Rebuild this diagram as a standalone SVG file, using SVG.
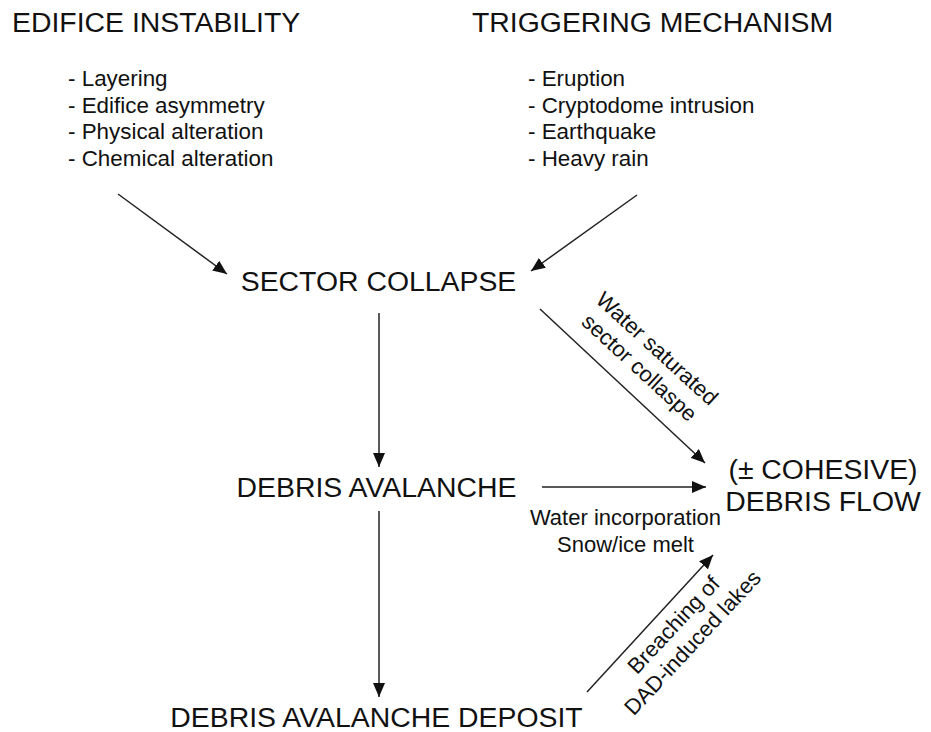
<svg xmlns="http://www.w3.org/2000/svg" width="931" height="732" viewBox="0 0 931 732">
  <defs>
    <marker id="ah" viewBox="0 0 14 12" refX="14" refY="6" markerWidth="14" markerHeight="12" markerUnits="userSpaceOnUse" orient="auto">
      <path d="M0,0 L14,6 L0,12 Z" fill="#111"/>
    </marker>
  </defs>
  <style>
    text { font-family: "Liberation Sans", Arial, sans-serif; fill: #111; }
    .big { font-size: 28.4px; }
    .item { font-size: 22.4px; }
    .lbl { font-size: 22px; text-anchor: middle; }
    .mid { text-anchor: middle; }
    .conn line { stroke: #222; stroke-width: 1.5; fill: none; marker-end: url(#ah); }
  </style>
  <rect width="931" height="732" fill="#fff"/>

  <g id="edifice-instability">
    <text class="big" x="12" y="32">EDIFICE INSTABILITY</text>
    <text class="item" x="68" y="86">- Layering</text>
    <text class="item" x="68" y="112.7">- Edifice asymmetry</text>
    <text class="item" x="68" y="139.3">- Physical alteration</text>
    <text class="item" x="68" y="166">- Chemical alteration</text>
  </g>

  <g id="triggering-mechanism">
    <text class="big" x="472" y="32">TRIGGERING MECHANISM</text>
    <text class="item" x="528" y="86">- Eruption</text>
    <text class="item" x="528" y="112.7">- Cryptodome intrusion</text>
    <text class="item" x="528" y="139.3">- Earthquake</text>
    <text class="item" x="528" y="166">- Heavy rain</text>
  </g>

  <g id="sector-collapse">
    <text class="big mid" x="378.5" y="291">SECTOR COLLAPSE</text>
  </g>

  <g id="debris-avalanche">
    <text class="big mid" x="376.5" y="497">DEBRIS AVALANCHE</text>
  </g>

  <g id="debris-avalanche-deposit">
    <text class="big mid" x="376.5" y="727">DEBRIS AVALANCHE DEPOSIT</text>
  </g>

  <g id="debris-flow">
    <text class="big mid" x="823" y="479">(± COHESIVE)</text>
    <text class="big mid" x="823" y="511">DEBRIS FLOW</text>
  </g>

  <g id="connectors" class="conn">
    <line x1="118" y1="194" x2="227" y2="274"/>
    <line x1="637" y1="195" x2="531" y2="271"/>
    <line x1="379" y1="313" x2="379" y2="467"/>
    <line x1="379" y1="511" x2="379" y2="697"/>
    <line x1="540" y1="309" x2="705" y2="463"/>
    <line x1="542" y1="487" x2="706" y2="487"/>
    <line x1="587" y1="692" x2="713" y2="555"/>
  </g>

  <g id="connector-labels">
    <g transform="translate(652,354) rotate(42.5)">
      <text class="lbl" x="0" y="0">Water saturated</text>
      <text class="lbl" x="0" y="26">sector collaspe</text>
    </g>
    <text class="lbl" x="625.5" y="525">Water incorporation</text>
    <text class="lbl" x="625.5" y="552">Snow/ice melt</text>
    <g transform="translate(679,630) rotate(-47)">
      <text class="lbl" x="0" y="0">Breaching of</text>
      <text class="lbl" x="0" y="26">DAD-induced lakes</text>
    </g>
  </g>
</svg>
